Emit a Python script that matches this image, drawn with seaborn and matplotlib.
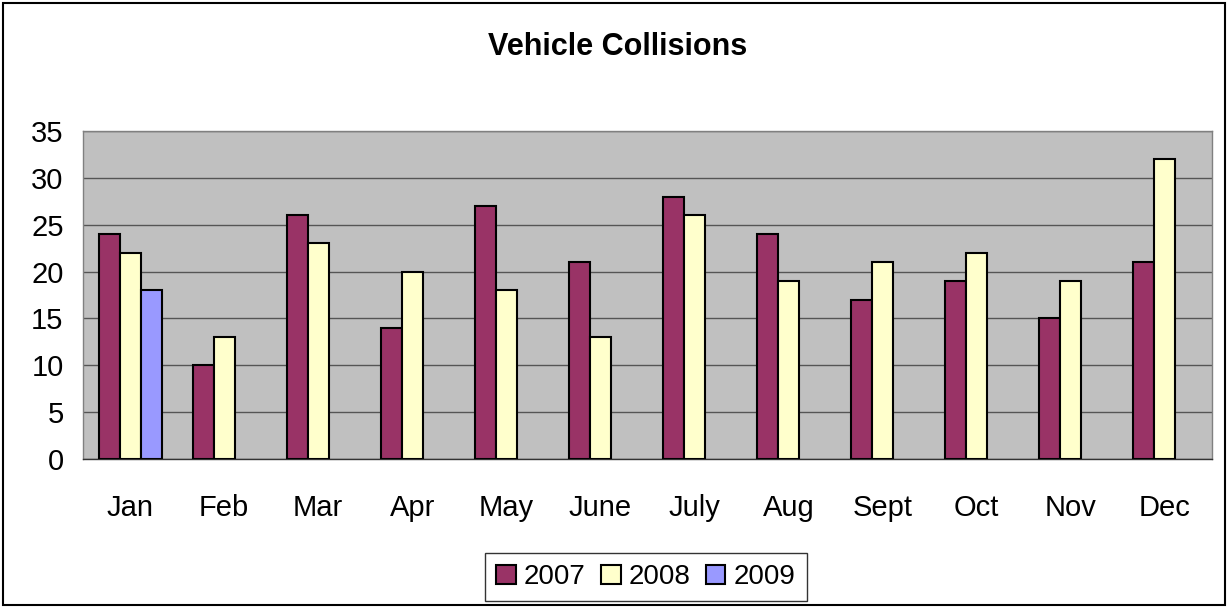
import matplotlib
matplotlib.use("Agg")
import matplotlib.pyplot as plt
import seaborn as sns
import pandas as pd
import numpy as np
from matplotlib.patches import Rectangle

months = ["Jan", "Feb", "Mar", "Apr", "May", "June", "July", "Aug", "Sept", "Oct", "Nov", "Dec"]
years = ["2007", "2008", "2009"]
y2007 = [24, 10, 26, 14, 27, 21, 28, 24, 17, 19, 15, 21]
y2008 = [22, 13, 23, 20, 18, 13, 26, 19, 21, 22, 19, 32]
y2009 = [18, np.nan, np.nan, np.nan, np.nan, np.nan, np.nan, np.nan, np.nan, np.nan, np.nan, np.nan]
colors = ["#993366", "#FFFFCC", "#9999FF"]

df = pd.DataFrame({
    "month": months * 3,
    "year": ["2007"] * 12 + ["2008"] * 12 + ["2009"] * 12,
    "count": y2007 + y2008 + y2009,
})

sns.set_style("white")
plt.rcParams["font.family"] = ["Liberation Sans", "DejaVu Sans"]
plt.rcParams["text.color"] = "black"
plt.rcParams["xtick.color"] = "black"
plt.rcParams["ytick.color"] = "black"
plt.rcParams["axes.labelcolor"] = "black"

fig = plt.figure(figsize=(12.31, 6.07), dpi=100)
W, H = 1231, 607
ax = fig.add_axes([83 / W, (H - 459) / H, (1212 - 83) / W, (459 - 131) / H])
ax.set_facecolor("#C0C0C0")

sns.barplot(data=df, x="month", y="count", hue="year", order=months, hue_order=years,
            palette=colors, width=0.67, edgecolor="black", linewidth=1.5,
            saturation=1, ax=ax, zorder=3, legend=True)

ax.set_ylim(0, 35)
ax.set_xlim(-0.5, 11.5)
ax.set_yticks(range(0, 36, 5))
ax.yaxis.grid(True, color="#555555", linewidth=1, zorder=0)
ax.set_axisbelow(True)
ax.set_xlabel("")
ax.set_ylabel("")

ax.set_xticks(np.arange(-0.5, 12, 1), minor=True)
ax.tick_params(axis="x", which="major", length=0, pad=25, labelsize=21, labelcolor="black")
ax.tick_params(axis="x", which="minor", length=8, width=1, color="#333333", direction="out")
ax.tick_params(axis="y", length=8, width=1, color="#333333", direction="out", labelsize=21,
               pad=6, labelcolor="black")

for s in ["top", "right"]:
    ax.spines[s].set_color("#808080")
ax.spines["left"].set_color("#808080")
ax.spines["bottom"].set_color("#333333")
for s in ax.spines.values():
    s.set_linewidth(1)

handles, labels = ax.get_legend_handles_labels()
ax.get_legend().remove()
leg = fig.legend(handles, labels, loc="center", bbox_to_anchor=(646 / W, (H - 577) / H),
                 ncol=3, fontsize=20, frameon=True, fancybox=False, edgecolor="black",
                 handlelength=0.7, handleheight=0.7, handletextpad=0.3, columnspacing=0.55,
                 borderpad=0.4, labelcolor="black")
leg.get_frame().set_linewidth(1)

fig.text(618 / W, (H - 47) / H, "Vehicle Collisions", ha="center", va="center",
         fontsize=22, fontweight="bold", color="black")

fig.patches.append(Rectangle((3 / W, 2 / H), (1225 - 3) / W, (604 - 2) / H,
                             transform=fig.transFigure, fill=False, edgecolor="black",
                             linewidth=1.5))

fig.savefig("out.png", dpi=100)
